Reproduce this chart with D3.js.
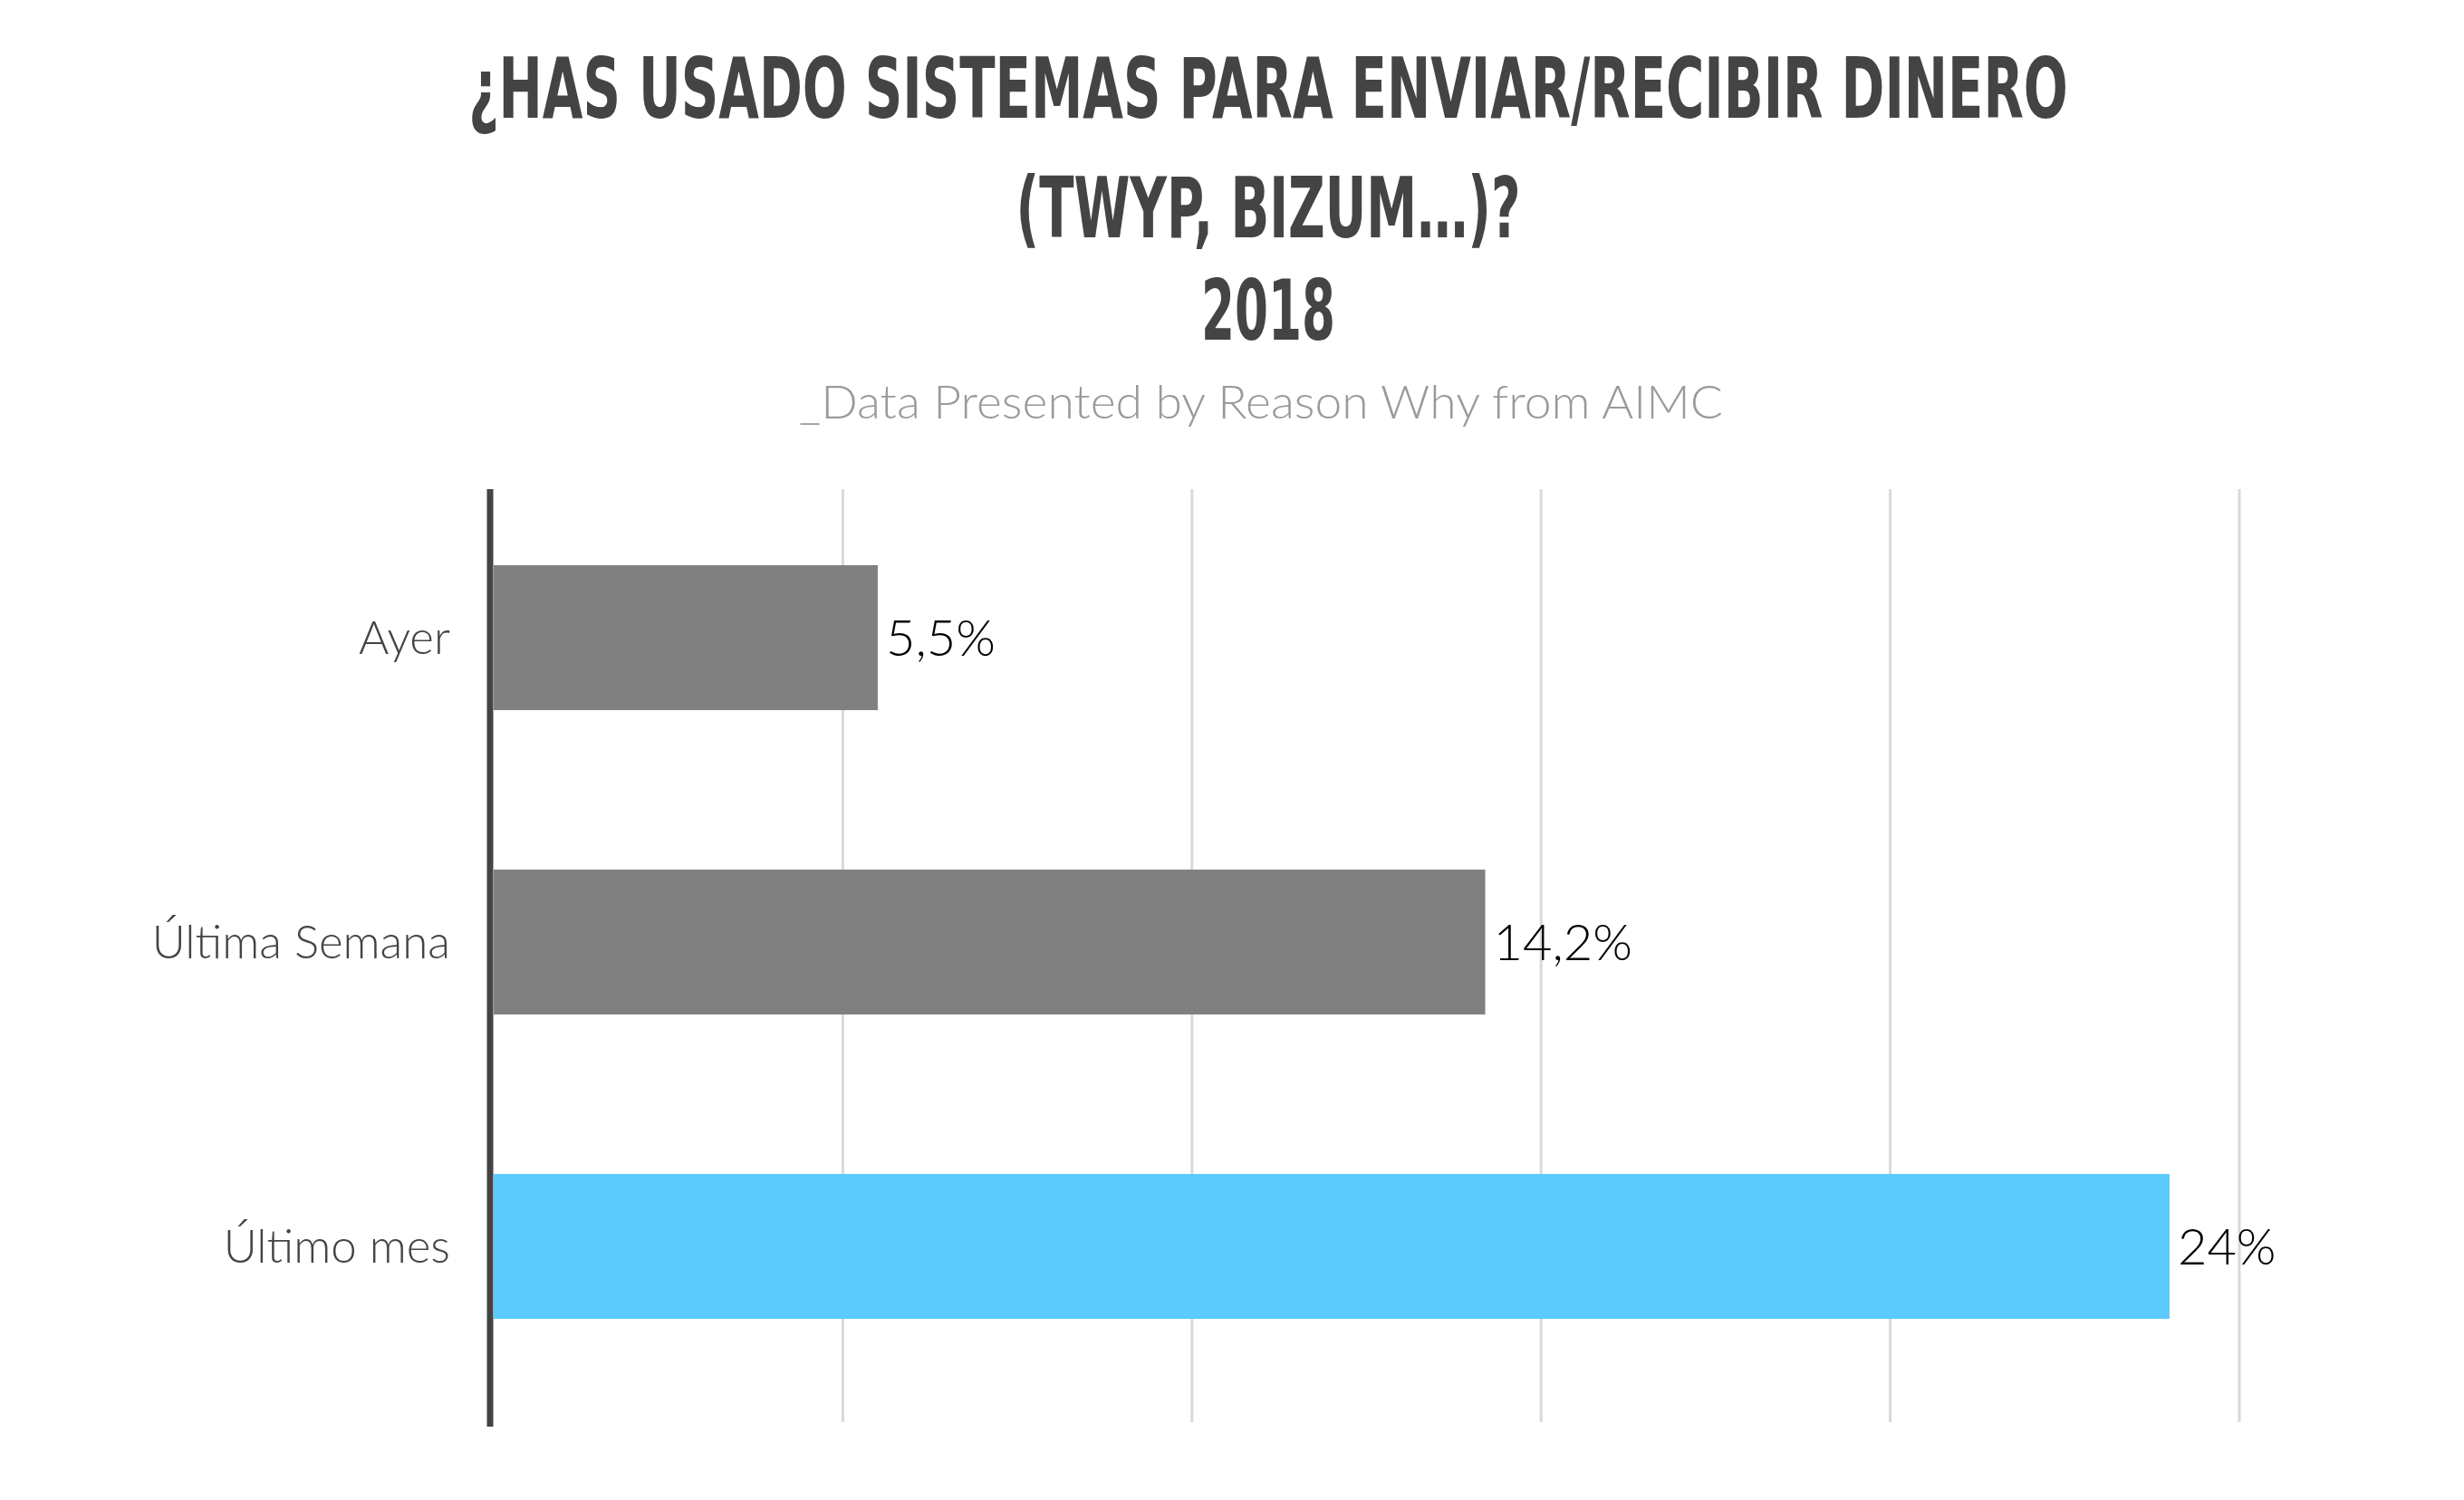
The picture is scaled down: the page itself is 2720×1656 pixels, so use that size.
<!DOCTYPE html>
<html>
<head>
<meta charset="utf-8">
<script src="https://cdn.jsdelivr.net/npm/d3@7"></script>
<style>
  body { margin: 0; background: #fff; }
</style>
</head>
<body>
<div id="chart"></div>
<script>
const categories = ["Ayer", "Última Semana", "Último mes"];
const values = [5.5, 14.2, 24];
const valueLabels = ["5,5%", "14,2%", "24%"];
const barColors = ["#808080", "#808080", "#5bcbfd"];
const gridTicks = [5, 10, 15, 20, 25];
const titleLines = ["¿HAS USADO SISTEMAS PARA ENVIAR/RECIBIR DINERO", "(TWYP, BIZUM…)?", "2018"];
const subtitle = "_Data Presented by Reason Why from AIMC";

const width = 2720, height = 1656;

const svg = d3.select("#chart")
    .append("svg")
    .attr("width", width)
    .attr("height", height);

// title, squeezed horizontally to get the condensed look of the original
const titleBase = [130, 262, 375];
const titleWidth = [1766, 557, 148];
svg.append("g")
    .selectAll("text")
    .data(titleLines)
    .join("text")
    .attr("text-anchor", "middle")
    .style("font-family", "'Liberation Sans Narrow', 'DejaVu Sans Condensed', sans-serif")
    .style("font-weight", "bold")
    .style("font-size", "92px")
    .style("fill", "#444")
    .text(d => d)
    .each(function (d, i) {
        const k = titleWidth[i] / this.getComputedTextLength();
        d3.select(this).attr("transform", `translate(1400,${titleBase[i]}) scale(${k},1)`);
    });

svg.append("text")
    .attr("text-anchor", "middle")
    .style("font-family", "Lato, 'Open Sans', sans-serif")
    .style("font-weight", 300)
    .style("font-size", "52px")
    .style("fill", "#9a9a9a")
    .text(subtitle)
    .each(function () {
        const k = 1020 / this.getComputedTextLength();
        d3.select(this).attr("transform", `translate(1392,462) scale(${k},1)`);
    });

// scales
const x = d3.scaleLinear()
    .domain([0, 25])
    .range([545, 2472]);

const y = d3.scaleBand()
    .domain(categories)
    .range([540, 1540])
    .paddingInner(0.524)
    .paddingOuter(0.25);

// vertical gridlines
svg.append("g")
    .selectAll("line")
    .data(gridTicks)
    .join("line")
    .attr("x1", d => x(d))
    .attr("x2", d => x(d))
    .attr("y1", 540)
    .attr("y2", 1570)
    .style("stroke", "#d9d9d9")
    .style("stroke-width", 3);

// bars
const rows = categories.map((c, i) => ({ cat: c, val: values[i], label: valueLabels[i], color: barColors[i] }));

svg.append("g")
    .selectAll("rect")
    .data(rows)
    .join("rect")
    .attr("x", x(0))
    .attr("y", d => y(d.cat))
    .attr("width", d => x(d.val) - x(0))
    .attr("height", y.bandwidth())
    .style("fill", d => d.color);

// value labels
svg.append("g")
    .selectAll("text")
    .data(rows)
    .join("text")
    .attr("x", d => x(d.val) + 9)
    .attr("y", d => y(d.cat) + y.bandwidth() / 2)
    .attr("dy", "0.36em")
    .style("font-family", "Lato, 'Open Sans', sans-serif")
    .style("font-weight", 300)
    .style("font-size", "56px")
    .style("fill", "#000")
    .text(d => d.label);

// category axis on the left
const yAxis = svg.append("g")
    .attr("transform", "translate(541,0)")
    .call(d3.axisLeft(y).tickSize(0).tickPadding(44));
yAxis.select(".domain").remove();
yAxis.append("line")
    .attr("y1", 540)
    .attr("y2", 1575)
    .style("stroke", "#444")
    .style("stroke-width", 7);
yAxis.selectAll(".tick text")
    .attr("dy", "0.36em")
    .style("font-family", "Lato, 'Open Sans', sans-serif")
    .style("font-weight", 300)
    .style("font-size", "51px")
    .style("fill", "#444");
</script>
</body>
</html>
